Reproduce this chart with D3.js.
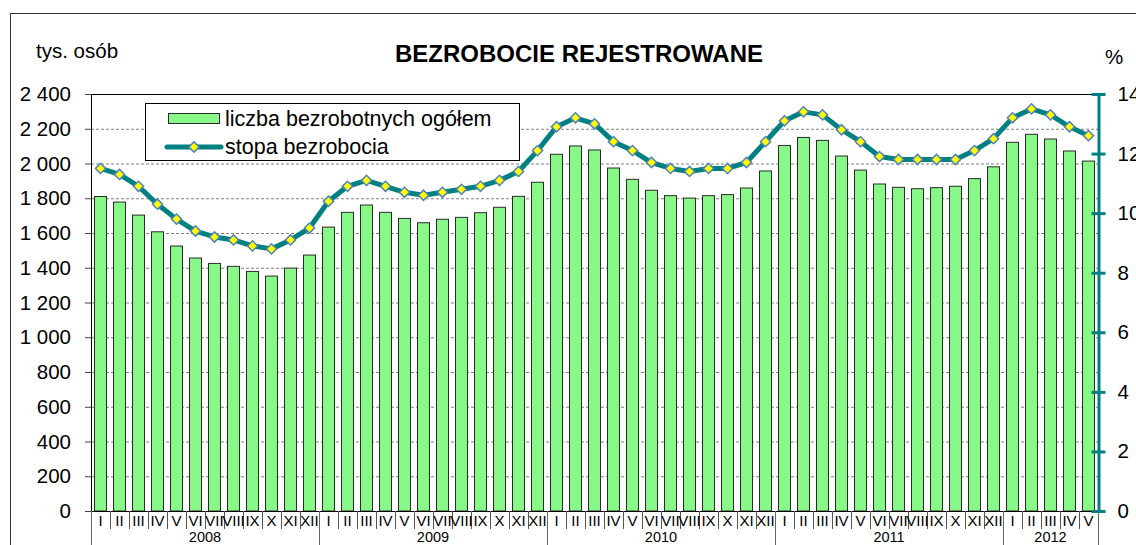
<html lang="pl">
<head>
<meta charset="utf-8">
<script src="https://d3js.org/d3.v7.min.js"></script>
<style>
  body { margin: 0; background: white; }
  text { font-family: "Liberation Sans", Arial, sans-serif; fill: #000; }
</style>
</head>
<body>
<div id="graph"></div>
<script>

// categories
var months = ["I","II","III","IV","V","VI","VII","VIII","IX","X","XI","XII"];
var years = ["2008","2009","2010","2011","2012"];
var monthsPerYear = [12, 12, 12, 12, 5];

// liczba bezrobotnych ogółem (tys. osób)
var unemployed = [
  1810, 1778, 1703, 1607, 1525, 1456, 1425, 1408, 1379, 1352, 1398, 1473,
  1634, 1719, 1761, 1719, 1684, 1659, 1679, 1690, 1717, 1748, 1811, 1892,
  2053, 2101, 2078, 1974, 1909, 1846, 1815, 1801, 1815, 1821, 1859, 1957,
  2104, 2150, 2133, 2043, 1962, 1882, 1863, 1855, 1861, 1869, 1913, 1981,
  2122, 2168, 2141, 2072, 2014
];

// stopa bezrobocia (%)
var rate = [
  11.5, 11.3, 10.9, 10.3, 9.8, 9.4, 9.2, 9.1, 8.9, 8.8, 9.1, 9.5,
  10.4, 10.9, 11.1, 10.9, 10.7, 10.6, 10.7, 10.8, 10.9, 11.1, 11.4, 12.1,
  12.9, 13.2, 13.0, 12.4, 12.1, 11.7, 11.5, 11.4, 11.5, 11.5, 11.7, 12.4,
  13.1, 13.4, 13.3, 12.8, 12.4, 11.9, 11.8, 11.8, 11.8, 11.8, 12.1, 12.5,
  13.2, 13.5, 13.3, 12.9, 12.6
];

var leftTicks = [0,200,400,600,800,1000,1200,1400,1600,1800,2000,2200,2400];
var rightTicks = [0,2,4,6,8,10,12,14];

var title = "BEZROBOCIE REJESTROWANE";
var leftUnit = "tys. osób";
var rightUnit = "%";
var legendLabels = ["liczba bezrobotnych ogółem", "stopa bezrobocia"];

// month labels for each bar
var monthLabels = [];
years.forEach(function(y, yi){
  for (var m = 0; m < monthsPerYear[yi]; m++) monthLabels.push(months[m]);
});
var idx = d3.range(unemployed.length);

var W = 1136, H = 545;
var x0 = 91, x1 = 1098, yTop = 94, yBot = 511;
var teal = "#008080", green = "#88F888";

var svg = d3.select('#graph').append('svg').attr('width', W).attr('height', H);

// outer frame
svg.append('rect')
  .attr('x', 10.5).attr('y', 13.5).attr('width', 1140).attr('height', 545)
  .attr('fill', 'white').attr('stroke', '#333').attr('stroke-width', 1);

var xScale = d3.scaleBand().domain(idx).range([x0, x1]).padding(0);
var barW = xScale.bandwidth() * 0.63;
var yScale = d3.scaleLinear().domain([0, 2400]).range([yBot, yTop]);
var rScale = d3.scaleLinear().domain([0, 14]).range([yBot, yTop]);

function fmt(v){ return d3.format(",")(v).replace(/,/g, " "); }

// grid
var grid = svg.append('g').attr('transform', 'translate(' + x0 + ',0)')
  .call(d3.axisLeft(yScale).tickValues(leftTicks.slice(1, -1)).tickSize(-(x1 - x0)).tickFormat(''));
grid.select('.domain').remove();
grid.selectAll('line').attr('stroke', '#808080').attr('stroke-dasharray', '3,2');

// top border of plot
svg.append('line').attr('x1', x0).attr('x2', x1).attr('y1', yTop + 0.5).attr('y2', yTop + 0.5)
  .attr('stroke', '#000');

// bars
svg.append('g').selectAll('rect').data(unemployed).enter().append('rect')
  .attr('x', function(d, i){ return xScale(i) + (xScale.bandwidth() - barW) / 2; })
  .attr('y', function(d){ return yScale(d); })
  .attr('width', barW)
  .attr('height', function(d){ return yScale(0) - yScale(d); })
  .attr('fill', green)
  .attr('stroke', '#2a2a2a').attr('stroke-width', 1);

// left axis
var leftAxis = svg.append('g').attr('transform', 'translate(' + x0 + ',0)')
  .call(d3.axisLeft(yScale).tickValues(leftTicks).tickSize(6).tickSizeOuter(0).tickPadding(14).tickFormat(fmt));
leftAxis.select('.domain').attr('stroke', '#000');
leftAxis.selectAll('line').attr('stroke', '#444');
leftAxis.selectAll('text').style('font-size', '20.5px').attr('fill', '#000')
  .style('font-family', '"Liberation Sans", Arial, sans-serif');

// bottom axis line
svg.append('line').attr('x1', x0).attr('x2', x1 + 4).attr('y1', yBot + 0.5).attr('y2', yBot + 0.5)
  .attr('stroke', '#000');

// month ticks and labels
var bottom = svg.append('g');
bottom.selectAll('.mtick').data(d3.range(unemployed.length + 1)).enter().append('line')
  .attr('class', 'mtick')
  .attr('x1', function(d){ return x0 + d * xScale.step() + 0.5; })
  .attr('x2', function(d){ return x0 + d * xScale.step() + 0.5; })
  .attr('y1', yBot).attr('y2', yBot + 18)
  .attr('stroke', '#555');
bottom.selectAll('.mlab').data(monthLabels).enter().append('text')
  .attr('class', 'mlab')
  .attr('x', function(d, i){ return xScale(i) + xScale.bandwidth() / 2; })
  .attr('y', yBot + 15)
  .attr('text-anchor', 'middle')
  .style('font-size', '15px')
  .text(function(d){ return d; });

// year separators and labels
var yearStart = [0];
monthsPerYear.forEach(function(n, i){ yearStart.push(yearStart[i] + n); });
bottom.selectAll('.ysep').data(yearStart).enter().append('line')
  .attr('x1', function(d){ return x0 + d * xScale.step() + 0.5; })
  .attr('x2', function(d){ return x0 + d * xScale.step() + 0.5; })
  .attr('y1', yBot).attr('y2', H)
  .attr('stroke', '#666');
bottom.selectAll('.ylab').data(years).enter().append('text')
  .attr('x', function(d, i){ return x0 + (yearStart[i] + yearStart[i + 1]) / 2 * xScale.step(); })
  .attr('y', 542)
  .attr('text-anchor', 'middle')
  .style('font-size', '14.5px')
  .text(function(d){ return d; });

// right axis
var rightAxis = svg.append('g').attr('transform', 'translate(' + (x1 + 0.5) + ',0)')
  .call(d3.axisRight(rScale).tickValues(rightTicks).tickSize(7).tickSizeOuter(0).tickPadding(12));
rightAxis.select('.domain').attr('stroke', teal).attr('stroke-width', 3);
rightAxis.selectAll('.tick line').attr('x1', -7).attr('stroke', teal).attr('stroke-width', 3);
rightAxis.selectAll('text').style('font-size', '20.5px').attr('fill', '#000')
  .style('font-family', '"Liberation Sans", Arial, sans-serif');

// rate line
var line = d3.line()
  .x(function(d, i){ return xScale(i) + xScale.bandwidth() / 2; })
  .y(function(d){ return rScale(d); });
svg.append('path').datum(rate)
  .attr('d', line)
  .attr('fill', 'none')
  .attr('stroke', teal).attr('stroke-width', 5).attr('stroke-linejoin', 'round');

var diamond = d3.symbol().type(d3.symbolSquare).size(52);
svg.append('g').selectAll('path').data(rate).enter().append('path')
  .attr('d', diamond)
  .attr('transform', function(d, i){
    return 'translate(' + (xScale(i) + xScale.bandwidth() / 2) + ',' + rScale(d) + ') rotate(45)';
  })
  .attr('fill', '#FFFF00')
  .attr('stroke', '#4F81BD').attr('stroke-width', 1.5);

// titles
svg.append('text').attr('x', 579).attr('y', 62).attr('text-anchor', 'middle')
  .style('font-size', '24px').style('font-weight', 'bold').text(title);
svg.append('text').attr('x', 36).attr('y', 58).style('font-size', '20.5px').text(leftUnit);
svg.append('text').attr('x', 1114).attr('y', 64).attr('text-anchor', 'middle')
  .style('font-size', '20.5px').text(rightUnit);

// legend
var legend = svg.append('g');
legend.append('rect').attr('x', 145.5).attr('y', 103.5).attr('width', 374).attr('height', 57)
  .attr('fill', 'white').attr('stroke', '#000');
legend.append('rect').attr('x', 168.5).attr('y', 113.5).attr('width', 51).attr('height', 10)
  .attr('fill', green).attr('stroke', '#2a2a2a');
legend.append('line').attr('x1', 167).attr('x2', 221).attr('y1', 147).attr('y2', 147)
  .attr('stroke', teal).attr('stroke-width', 5).attr('stroke-linecap', 'round');
legend.append('path').attr('d', diamond)
  .attr('transform', 'translate(194,147) rotate(45)')
  .attr('fill', '#FFFF00').attr('stroke', '#4F81BD').attr('stroke-width', 1.5);
legend.selectAll('.ltxt').data(legendLabels).enter().append('text')
  .attr('x', 225)
  .attr('y', function(d, i){ return 126 + i * 27.5; })
  .style('font-size', '21.5px')
  .text(function(d){ return d; });

</script>
</body>
</html>
